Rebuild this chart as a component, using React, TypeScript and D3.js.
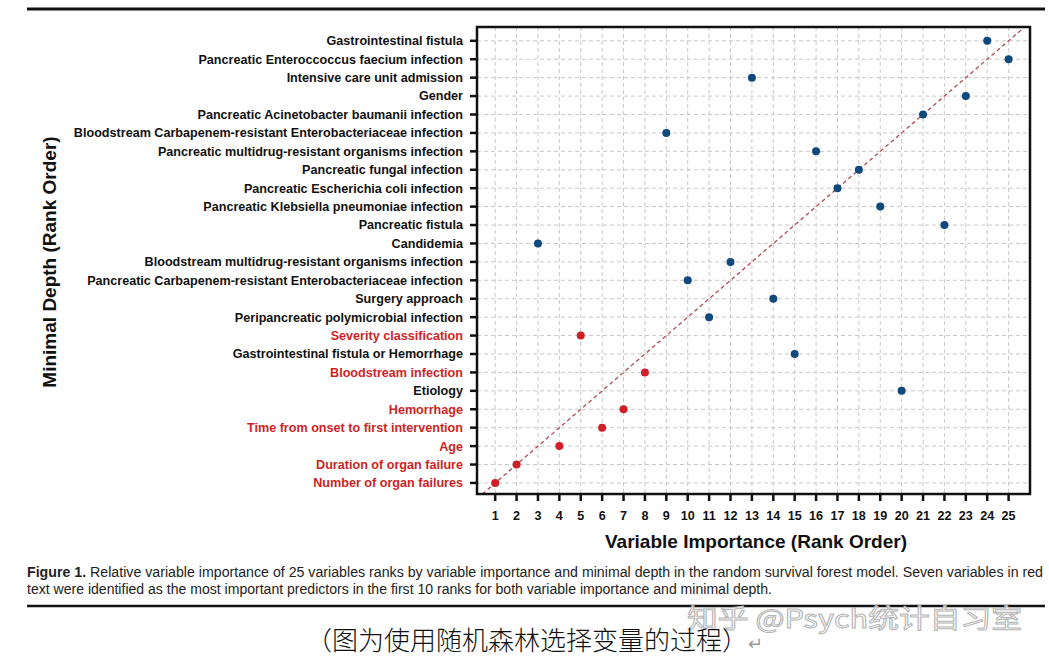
import { useRef, useEffect } from "react";
import * as d3 from "d3";

// variables listed by minimal depth rank, 1 (bottom) to 25 (top)
const variableNames = [
  "Number of organ failures",
  "Duration of organ failure",
  "Age",
  "Time from onset to first intervention",
  "Hemorrhage",
  "Etiology",
  "Bloodstream infection",
  "Gastrointestinal fistula or Hemorrhage",
  "Severity classification",
  "Peripancreatic polymicrobial infection",
  "Surgery approach",
  "Pancreatic Carbapenem-resistant Enterobacteriaceae infection",
  "Bloodstream multidrug-resistant organisms infection",
  "Candidemia",
  "Pancreatic fistula",
  "Pancreatic Klebsiella pneumoniae infection",
  "Pancreatic Escherichia coli infection",
  "Pancreatic fungal infection",
  "Pancreatic multidrug-resistant organisms infection",
  "Bloodstream Carbapenem-resistant Enterobacteriaceae infection",
  "Pancreatic Acinetobacter baumanii infection",
  "Gender",
  "Intensive care unit admission",
  "Pancreatic Enteroccoccus faecium infection",
  "Gastrointestinal fistula",
];

const depthRanks = [
  1, 2, 3, 4, 5, 6, 7, 8, 9, 10, 11, 12, 13, 14, 15, 16, 17, 18, 19, 20, 21,
  22, 23, 24, 25,
];

const importanceRanks = [
  1, 2, 4, 6, 7, 20, 8, 15, 5, 11, 14, 10, 12, 3, 22, 19, 17, 18, 16, 9, 21,
  23, 13, 25, 24,
];

// the seven variables highlighted in red
const highlighted = [
  "Number of organ failures",
  "Duration of organ failure",
  "Age",
  "Time from onset to first intervention",
  "Hemorrhage",
  "Bloodstream infection",
  "Severity classification",
];

const rankTicks = d3.range(1, 26);

const captionLine1 =
  "Relative variable importance of 25 variables ranks by variable importance and minimal depth in the random survival forest model. Seven variables in red";
const captionLine2 =
  "text were identified as the most important predictors in the first 10 ranks for both variable importance and minimal depth.";

export default function App() {
  const svgRef = useRef<SVGSVGElement>(null);

  useEffect(() => {
    if (!svgRef.current) return;
    document.body.style.margin = "0";

    const width = 1049;
    const height = 666;
    const svg = d3.select(svgRef.current);
    svg.selectAll("*").remove();
    svg.attr("width", width).attr("height", height);

    svg
      .append("rect")
      .attr("width", width)
      .attr("height", height)
      .attr("fill", "#fff");

    const box = { left: 477, right: 1030, top: 27, bottom: 494 };
    const xDomain: [number, number] = [0.15, 26];
    const yDomain: [number, number] = [0.4, 25.75];

    const x = d3.scaleLinear().domain(xDomain).range([box.left, box.right]);
    const y = d3.scaleLinear().domain(yDomain).range([box.bottom, box.top]);

    const font = "'Liberation Sans', Arial, Helvetica, sans-serif";
    const red = "#d01f26";
    const blue = "#0f497d";

    // top rule
    svg
      .append("line")
      .attr("x1", 27)
      .attr("x2", 1045)
      .attr("y1", 9)
      .attr("y2", 9)
      .attr("stroke", "#111")
      .attr("stroke-width", 3);

    // grid
    const grid = svg.append("g");
    grid
      .selectAll("line.v")
      .data(rankTicks)
      .join("line")
      .attr("class", "v")
      .attr("x1", (d) => x(d))
      .attr("x2", (d) => x(d))
      .attr("y1", box.top)
      .attr("y2", box.bottom)
      .attr("stroke", "#c8c8c8")
      .attr("stroke-width", 1)
      .attr("stroke-dasharray", "4,3");
    grid
      .selectAll("line.h")
      .data(rankTicks)
      .join("line")
      .attr("class", "h")
      .attr("x1", box.left)
      .attr("x2", box.right)
      .attr("y1", (d) => y(d))
      .attr("y2", (d) => y(d))
      .attr("stroke", "#c8c8c8")
      .attr("stroke-width", 1)
      .attr("stroke-dasharray", "4,3");

    // identity line y = x, cut at the box
    const lo = Math.max(xDomain[0], yDomain[0]);
    const hi = Math.min(xDomain[1], yDomain[1]);
    svg
      .append("line")
      .attr("x1", x(lo))
      .attr("y1", y(lo))
      .attr("x2", x(hi))
      .attr("y2", y(hi))
      .attr("stroke", "#b24a55")
      .attr("stroke-width", 1.3)
      .attr("stroke-dasharray", "4,3");

    // points
    svg
      .append("g")
      .selectAll("circle")
      .data(variableNames)
      .join("circle")
      .attr("cx", (_, i) => x(importanceRanks[i]))
      .attr("cy", (_, i) => y(depthRanks[i]))
      .attr("r", 4)
      .attr("fill", (d) => (highlighted.includes(d) ? red : blue));

    // frame
    svg
      .append("rect")
      .attr("x", box.left)
      .attr("y", box.top)
      .attr("width", box.right - box.left)
      .attr("height", box.bottom - box.top)
      .attr("fill", "none")
      .attr("stroke", "#111")
      .attr("stroke-width", 2.5);

    // left axis ticks and labels
    const left = svg.append("g");
    left
      .selectAll("line")
      .data(depthRanks)
      .join("line")
      .attr("x1", box.left - 7)
      .attr("x2", box.left)
      .attr("y1", (d) => y(d))
      .attr("y2", (d) => y(d))
      .attr("stroke", "#111")
      .attr("stroke-width", 2.5);
    left
      .selectAll("text")
      .data(variableNames)
      .join("text")
      .attr("x", box.left - 14)
      .attr("y", (_, i) => y(depthRanks[i]))
      .attr("dy", "0.35em")
      .attr("text-anchor", "end")
      .attr("font-family", font)
      .attr("font-weight", "bold")
      .attr("font-size", "12.6px")
      .attr("fill", (d) => (highlighted.includes(d) ? red : "#111"))
      .text((d) => d);

    // bottom axis ticks and labels
    const bottom = svg.append("g");
    bottom
      .selectAll("line")
      .data(rankTicks)
      .join("line")
      .attr("x1", (d) => x(d))
      .attr("x2", (d) => x(d))
      .attr("y1", box.bottom)
      .attr("y2", box.bottom + 7)
      .attr("stroke", "#111")
      .attr("stroke-width", 2.5);
    bottom
      .selectAll("text")
      .data(rankTicks)
      .join("text")
      .attr("x", (d) => x(d))
      .attr("y", box.bottom + 22)
      .attr("dy", "0.35em")
      .attr("text-anchor", "middle")
      .attr("font-family", font)
      .attr("font-weight", "bold")
      .attr("font-size", "12.6px")
      .attr("fill", "#111")
      .text((d) => String(d));

    // axis titles
    svg
      .append("text")
      .attr("x", 756)
      .attr("y", 541)
      .attr("dy", "0.35em")
      .attr("text-anchor", "middle")
      .attr("font-family", font)
      .attr("font-weight", "bold")
      .attr("font-size", "19px")
      .attr("fill", "#111")
      .text("Variable Importance (Rank Order)");

    svg
      .append("text")
      .attr("transform", "translate(49,262) rotate(-90)")
      .attr("dy", "0.35em")
      .attr("text-anchor", "middle")
      .attr("font-family", font)
      .attr("font-weight", "bold")
      .attr("font-size", "19px")
      .attr("fill", "#111")
      .text("Minimal Depth (Rank Order)");

    // caption
    const cap1 = svg
      .append("text")
      .attr("x", 27)
      .attr("y", 577)
      .attr("font-family", font)
      .attr("font-size", "14px")
      .attr("fill", "#222")
      .attr("textLength", 1016)
      .attr("lengthAdjust", "spacingAndGlyphs");
    cap1.append("tspan").attr("font-weight", "bold").text("Figure 1. ");
    cap1.append("tspan").text(captionLine1);

    svg
      .append("text")
      .attr("x", 27)
      .attr("y", 594)
      .attr("font-family", font)
      .attr("font-size", "14px")
      .attr("fill", "#222")
      .attr("textLength", 745)
      .attr("lengthAdjust", "spacingAndGlyphs")
      .text(captionLine2);

    // bottom rule
    svg
      .append("line")
      .attr("x1", 27)
      .attr("x2", 1045)
      .attr("y1", 606)
      .attr("y2", 606)
      .attr("stroke", "#111")
      .attr("stroke-width", 2.5);

    // watermark
    svg
      .append("text")
      .attr("x", 687)
      .attr("y", 628)
      .attr("font-family", "'Noto Sans CJK SC', sans-serif")
      .attr("font-size", "26px")
      .attr("fill", "rgba(255,255,255,0.75)")
      .attr("stroke", "#b5b5b5")
      .attr("stroke-width", 1)
      .attr("textLength", 335)
      .attr("lengthAdjust", "spacingAndGlyphs")
      .text("知乎 @Psych统计自习室");

    // Chinese note
    const note = svg
      .append("text")
      .attr("x", 306)
      .attr("y", 650)
      .attr("font-family", "'Noto Sans CJK SC', sans-serif")
      .attr("font-size", "26px")
      .attr("font-weight", 300)
      .attr("fill", "#111");
    note.append("tspan").text("（图为使用随机森林选择变量的过程）");
    note
      .append("tspan")
      .attr("fill", "#999")
      .attr("font-size", "18px")
      .text("↵");
  }, []);

  return <svg ref={svgRef} style={{ display: "block" }} />;
}
